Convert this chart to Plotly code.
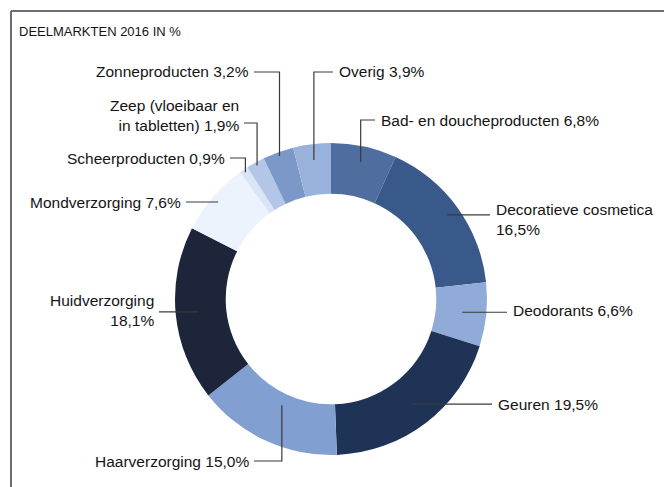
import math
import plotly.graph_objects as go

# ---------------- data ----------------
categories = ["Bad- en doucheproducten", "Decoratieve cosmetica", "Deodorants", "Geuren",
              "Haarverzorging", "Huidverzorging", "Mondverzorging", "Scheerproducten",
              "Zeep (vloeibaar en in tabletten)", "Zonneproducten", "Overig"]
values = [6.8, 16.5, 6.6, 19.5, 15.0, 18.1, 7.6, 0.9, 1.9, 3.2, 3.9]
label_names = ["Bad- en doucheproducten", "Decoratieve cosmetica<br>", "Deodorants", "Geuren",
               "Haarverzorging", "Huidverzorging<br>", "Mondverzorging", "Scheerproducten",
               "Zeep (vloeibaar en<br>in tabletten)", "Zonneproducten", "Overig"]
colors = ["#4f6d9f", "#3a598b", "#91abd8", "#1f3356", "#819fd1", "#1c2539",
          "#edf3fd", "#d9e4f6", "#b3c6e8", "#7c98c9", "#98b2dc"]
title_text = "DEELMARKTEN 2016 IN %"

# ---------------- layout constants (pixels, origin top-left) ----------------
W, H = 664, 487
CX, CY, R = 331, 299, 156
HOLE = 0.675
FONT = "Liberation Sans, Arial, sans-serif"
FS = 15.5
LINE_COLOR = "#3a3a3a"

# leader specs per category: kind, radius, elbow y (for vertical), text x, text y, anchor
leaders = [
    dict(kind="v", r=140, hy=120, tx=380, ty=120, anchor="left"),
    dict(kind="h", r=143.6, tx=495, ty=219, anchor="left"),
    dict(kind="h", r=132, tx=512, ty=310, anchor="left"),
    dict(kind="h", r=132, tx=497, ty=404, anchor="left"),
    dict(kind="v", r=117, hy=461, tx=250, ty=461, anchor="right"),
    dict(kind="h", r=133, tx=155, ty=310, anchor="right"),
    dict(kind="h", r=148.8, tx=182, ty=202, anchor="right"),
    dict(kind="v", r=153, hy=158, tx=226, ty=158, anchor="right"),
    dict(kind="v", r=152.6, hy=123, tx=240, ty=116, anchor="right"),
    dict(kind="v", r=152, hy=72, tx=250, ty=72, anchor="right"),
    dict(kind="v", r=140, hy=72, tx=338, ty=72, anchor="left"),
]


def px(x):
    return x / W


def py(y):
    return 1 - y / H


def fmt(v):
    return f"{v:.1f}%".replace(".", ",")


fig = go.Figure(go.Pie(
    labels=categories, values=values, sort=False, direction="clockwise", rotation=0,
    hole=HOLE, textinfo="none", hoverinfo="label+percent",
    marker=dict(colors=colors, line=dict(width=0)),
    domain=dict(x=[px(CX - R), px(CX + R)], y=[py(CY + R), py(CY - R)]),
    showlegend=False,
))

shapes = []
annotations = []
total = sum(values)
cum = 0.0
for name, v, spec in zip(label_names, values, leaders):
    mid = (cum + v / 2) / total * 2 * math.pi
    cum += v
    ex = CX + spec["r"] * math.sin(mid)
    ey = CY - spec["r"] * math.cos(mid)
    edge = spec["tx"] - 5 if spec["anchor"] == "left" else spec["tx"] + 4
    if spec["kind"] == "v":
        hy = spec["hy"]
        path = f"M {px(ex)},{py(ey)} L {px(ex)},{py(hy)} L {px(edge)},{py(hy)}"
    else:
        path = f"M {px(ex)},{py(ey)} L {px(edge)},{py(ey)}"
    shapes.append(dict(type="path", xref="paper", yref="paper", path=path,
                       line=dict(color=LINE_COLOR, width=1.2)))
    sep = "" if name.endswith("<br>") else " "
    annotations.append(dict(
        x=px(spec["tx"]), y=py(spec["ty"]), xref="paper", yref="paper",
        xanchor=spec["anchor"], yanchor="middle", align=spec["anchor"],
        text=f"{name}{sep}{fmt(v)}", showarrow=False, borderpad=0,
        font=dict(family=FONT, size=FS, color="#141414"),
    ))

annotations.append(dict(
    x=px(18), y=py(32), xref="paper", yref="paper", xanchor="left", yanchor="middle",
    text=title_text, showarrow=False, borderpad=0,
    font=dict(family=FONT, size=13, color="#141414"),
))

# frame
shapes.append(dict(type="line", xref="paper", yref="paper", x0=px(11), y0=py(11), x1=px(W), y1=py(11),
                   line=dict(color="#6e6e6e", width=2)))
shapes.append(dict(type="line", xref="paper", yref="paper", x0=px(11), y0=py(11), x1=px(11), y1=py(H),
                   line=dict(color="#6e6e6e", width=2)))

fig.update_layout(
    width=W, height=H, margin=dict(l=0, r=0, t=0, b=0),
    paper_bgcolor="white", plot_bgcolor="white",
    shapes=shapes, annotations=annotations,
)

fig.write_html("out.html", config={"displayModeBar": False},
               post_script="document.body.style.margin='0px';")
